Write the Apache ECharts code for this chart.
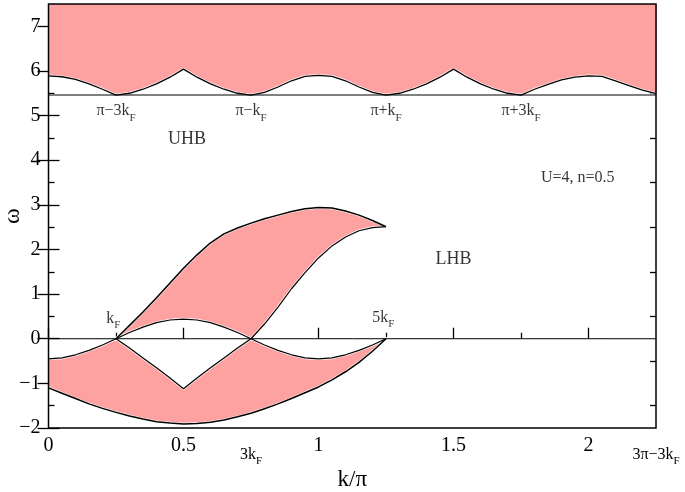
<!DOCTYPE html>
<html>
<head>
<meta charset="utf-8">
<script src="https://cdn.jsdelivr.net/npm/echarts@6/dist/echarts.min.js"></script>
<style>
  html, body { margin: 0; padding: 0; background: #fff; }
  #chart { width: 685px; height: 492px; }
</style>
</head>
<body>
<div id="chart"></div>
<script>
// k/pi grid (step 0.05) and band edges
var kUHB = [0,0.05,0.1,0.15,0.2,0.25,0.3,0.35,0.4,0.45,0.5,0.55,0.6,0.65,0.7,0.75,0.8,0.85,0.9,0.95,1,
            1.05,1.1,1.15,1.2,1.25,1.3,1.35,1.4,1.45,1.5,1.55,1.6,1.65,1.7,1.75,1.8,1.85,1.9,1.95,2,
            2.05,2.1,2.15,2.2,2.25];
var wUHB = [5.89,5.87,5.81,5.71,5.59,5.46,5.50,5.59,5.71,5.86,6.04,5.86,5.71,5.59,5.50,5.46,
            5.52,5.64,5.78,5.88,5.90,5.88,5.78,5.64,5.52,5.46,5.50,5.59,5.71,5.86,6.04,
            5.86,5.71,5.59,5.50,5.46,5.59,5.70,5.80,5.86,5.89,5.88,5.78,5.67,5.57,5.49];
var gapLevel = 5.46;

var kA = [0,0.05,0.1,0.15,0.2,0.25,0.3,0.35,0.4,0.45,0.5,0.55,0.6,0.65,0.7,0.75,0.8,0.85,0.9,0.95,1,1.05,1.1,1.15,1.2,1.25];
var wA = [-0.45,-0.43,-0.36,-0.26,-0.14,0,0.14,0.26,0.36,0.42,0.44,0.42,0.36,0.26,0.14,0,
          -0.14,-0.26,-0.36,-0.43,-0.45,-0.43,-0.36,-0.26,-0.14,0];

var kB = [0.25,0.3,0.35,0.4,0.45,0.5,0.55,0.6,0.65,0.7,0.75,0.8,0.85,0.9,0.95,1,1.05,1.1,1.15,1.2,1.25];
var wB = [0,0.30,0.60,0.92,1.25,1.58,1.88,2.15,2.35,2.48,2.59,2.69,2.77,2.85,2.91,2.94,2.93,2.86,2.77,2.65,2.51];

var kC = [0.75,0.8,0.85,0.9,0.95,1,1.05,1.1,1.15,1.2,1.25];
var wC = [0,0.33,0.71,1.12,1.48,1.81,2.08,2.28,2.42,2.49,2.51];

var kV = [0.25,0.3,0.35,0.4,0.45,0.5,0.55,0.6,0.65,0.7,0.75];
var wV = [0,-0.21,-0.43,-0.65,-0.88,-1.12,-0.88,-0.65,-0.43,-0.21,0];

var kBot = [0,0.05,0.1,0.15,0.2,0.25,0.3,0.35,0.4,0.45,0.5,0.55,0.6,0.65,0.7,0.75,0.8,0.85,0.9,0.95,1,1.05,1.1,1.15,1.2,1.25];
var wBot = [-1.10,-1.22,-1.34,-1.46,-1.56,-1.65,-1.73,-1.80,-1.86,-1.89,-1.91,-1.90,-1.87,-1.82,-1.75,-1.67,
            -1.57,-1.46,-1.34,-1.21,-1.08,-0.92,-0.74,-0.53,-0.28,0];

// axes
var xMin = 0, xMax = 2.25, yMin = -2, yMax = 7.5;
var xMajor = [0, 0.5, 1, 1.5, 2];
var xMinor = [0.25, 0.75, 1.25, 1.75];
var xSpecial = [0.75, 2.25];
var xSpecialText = ['{m|3k}{s|F}', '{m|3\u03c0\u22123k}{s|F}'];
var yMajor = [-2, -1, 0, 1, 2, 3, 4, 5, 6, 7];
var yMinor = [-1.5, -0.5, 0.5, 1.5, 2.5, 3.5, 4.5, 5.5, 6.5];

// annotations
var noteText = ['UHB', 'LHB', 'U=4, n=0.5',
                '{m|k}{s|F}', '{m|5k}{s|F}',
                '{m|\u03c0\u22123k}{s|F}', '{m|\u03c0\u2212k}{s|F}', '{m|\u03c0+k}{s|F}', '{m|\u03c0+3k}{s|F}'];
var noteK = [0.513, 1.5, 1.96, 0.24, 1.24, 0.25, 0.75, 1.25, 1.75];
var noteW = [4.46, 1.77, 3.6, 0.45, 0.47, 5.1, 5.1, 5.1, 5.1];
var noteSize = [18, 18, 16, 18, 18, 18, 18, 18, 18];

var PINK = '#fea1a1';
var FONT = 'Liberation Serif';

function zip(ks, ws) { return ks.map(function (k, i) { return [k, ws[i]]; }); }

var uhbPoly = [[-0.05, wUHB[0]]].concat(zip(kUHB, wUHB),
  [[2.3, wUHB[wUHB.length - 1]], [2.3, 7.8], [-0.05, 7.8]]);
var upperPoly = zip(kB, wB).concat(
  zip(kC, wC).reverse().slice(1),
  zip(kA, wA).slice(5, 16).reverse().slice(1));
var lowerPoly = [[-0.05, wA[0]]].concat(
  zip(kA, wA).slice(0, 6),
  zip(kV, wV).slice(1),
  zip(kA, wA).slice(16),
  zip(kBot, wBot).reverse().slice(1),
  [[-0.05, wBot[0]]]);
var polys = [uhbPoly, upperPoly, lowerPoly];

var rich = {
  m: { fontFamily: FONT, fontSize: 16, lineHeight: 16, color: '#000', verticalAlign: 'top' },
  s: { fontFamily: FONT, fontSize: 11, lineHeight: 11, color: '#000', verticalAlign: 'top', padding: [9, 0, 0, 0] }
};

function curve(ks, ws, width) {
  return {
    type: 'line', data: zip(ks, ws), showSymbol: false, symbol: 'none', silent: true,
    lineStyle: { color: '#000', width: width || 1.3 }, z: 3
  };
}

function xAx(extra) {
  var a = {
    type: 'value', min: xMin, max: xMax, position: 'bottom', gridIndex: 0,
    axisLine: { show: false }, splitLine: { show: false },
    axisTick: { show: false }, axisLabel: { show: false }
  };
  for (var key in extra) a[key] = extra[key];
  return a;
}
function yAx(extra) {
  var a = {
    type: 'value', min: yMin, max: yMax, position: 'left', gridIndex: 0,
    axisLine: { show: false }, splitLine: { show: false },
    axisTick: { show: false }, axisLabel: { show: false }
  };
  for (var key in extra) a[key] = extra[key];
  return a;
}

var myChart = echarts.init(document.getElementById('chart'));
var option = {
  animation: false,
  backgroundColor: '#fff',
  grid: {
    left: 48.5, right: 29, top: 4, bottom: 64,
    show: true, z: 5, borderColor: '#000', borderWidth: 1.5, backgroundColor: 'transparent',
    outerBoundsMode: 'none', containLabel: false
  },
  xAxis: [
    xAx({
      name: 'k/\u03c0', nameLocation: 'middle', nameGap: 40, nameMoveOverlap: false,
      nameTextStyle: { fontFamily: FONT, fontSize: 23, color: '#000' },
      axisTick: { show: true, inside: true, length: 11, customValues: xMajor, lineStyle: { color: '#000', width: 1.3 } },
      axisLabel: { show: true, customValues: xMajor, margin: 8, fontFamily: FONT, fontSize: 20, color: '#000' }
    }),
    xAx({ axisTick: { show: true, inside: true, length: 6, customValues: xMinor, lineStyle: { color: '#000', width: 1.3 } } }),
    xAx({
      axisLabel: {
        show: true, customValues: xSpecial, margin: 19, rich: rich,
        formatter: function (v) { return xSpecialText[xSpecial.indexOf(v)] || ''; }
      }
    })
  ],
  yAxis: [
    yAx({
      name: '\u03c9', nameLocation: 'middle', nameGap: 24, nameRotate: 90, nameMoveOverlap: false,
      nameTextStyle: { fontFamily: FONT, fontSize: 24, color: '#000' },
      axisTick: { show: true, inside: true, length: 11, customValues: yMajor, lineStyle: { color: '#000', width: 1.3 } },
      axisLabel: {
        show: true, customValues: yMajor, margin: 8, fontFamily: FONT, fontSize: 20, color: '#000',
        formatter: function (v) { return String(v).replace('-', '\u2212'); }
      }
    }),
    yAx({ axisTick: { show: true, inside: true, length: 6, customValues: yMinor, lineStyle: { color: '#000', width: 1.3 } } }),
    yAx({ position: 'right', axisTick: { show: true, inside: true, length: 11, customValues: yMajor, lineStyle: { color: '#000', width: 1.3 } } }),
    yAx({ position: 'right', axisTick: { show: true, inside: true, length: 6, customValues: yMinor, lineStyle: { color: '#000', width: 1.3 } } })
  ],
  series: [
    {
      type: 'custom', coordinateSystem: 'cartesian2d', clip: true, silent: true, z: 2,
      data: polys.map(function (p, i) { return [p[1][0], p[1][1], i]; }),
      renderItem: function (params, api) {
        return {
          type: 'polygon',
          shape: { points: polys[params.dataIndex].map(function (p) { return api.coord(p); }) },
          style: { fill: PINK, stroke: '#fff', lineWidth: 2.5 }
        };
      }
    },
    { type: 'line', data: [[xMin, gapLevel], [xMax, gapLevel]], showSymbol: false, silent: true,
      lineStyle: { color: '#808080', width: 2 }, z: 3 },
    { type: 'line', data: [[xMin, 0], [xMax, 0]], showSymbol: false, silent: true,
      lineStyle: { color: '#000', width: 1 }, z: 3 },
    curve(kUHB, wUHB, 1.3),
    curve(kA, wA, 1.2),
    curve(kB, wB, 1.5),
    curve(kC, wC, 1.2),
    curve(kV, wV, 1.2),
    curve(kBot, wBot, 1.5),
    {
      type: 'scatter', symbolSize: 1, silent: true, z: 6,
      itemStyle: { color: 'transparent' },
      data: noteText.map(function (t, i) {
        return { value: [noteK[i], noteW[i], t], label: { fontSize: noteSize[i] } };
      }),
      label: {
        show: true, position: 'inside', color: '#000', fontFamily: FONT, fontSize: 18, rich: rich,
        formatter: function (p) { return p.value[2]; }
      }
    }
  ]
};
myChart.setOption(option);
</script>
</body>
</html>
